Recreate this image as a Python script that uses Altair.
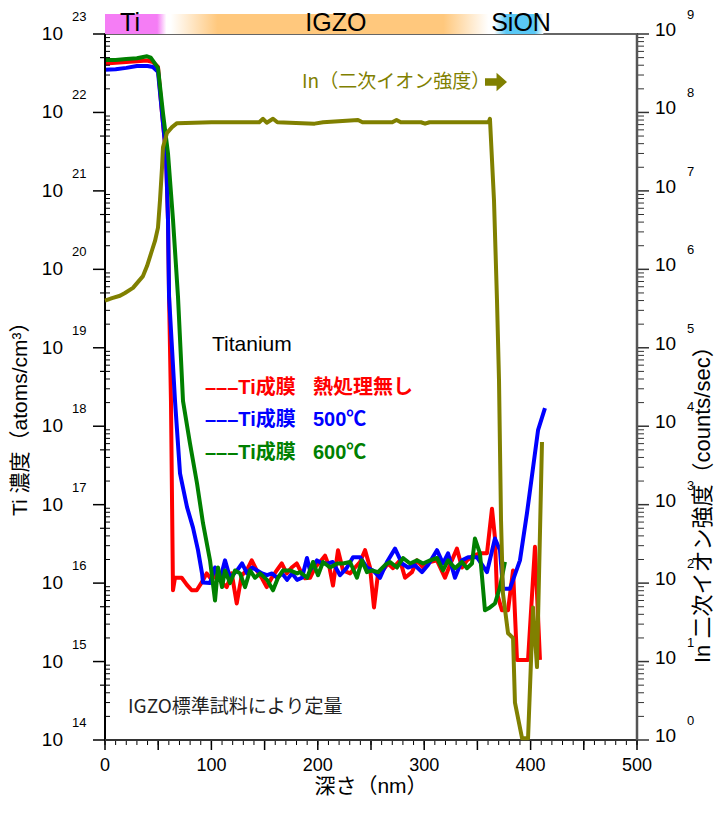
import altair as alt
import pandas as pd

# ---------------- data ----------------
red_depth = [0, 10, 20, 30, 39.5, 45, 49.8, 53.6, 57.3, 59.2,
             60.2, 62.0, 63.9, 65.8, 72.1, 77.0, 81.5, 86.2, 90.9, 95.6,
             100.3, 105.0, 109.6, 114.4, 119.1, 123.8, 128.5, 133.2, 137.9, 142.6,
             147.3, 152.0, 156.7, 161.4, 166.1, 170.8, 175.5, 180.2, 184.9, 188.0,
             192.7, 197.4, 202.1, 206.8, 211.0, 214.3, 219.0, 223.7, 230.3, 235.0,
             239.7, 244.4, 249.1, 252.8, 256.6, 261.0, 266.0, 270.7, 277.3, 282.0,
             288.5, 293.2, 298.9, 305.5, 312.0, 319.5, 324.2, 330.8, 335.5, 340.2,
             345.9, 352.4, 359.0, 363.7, 366.5, 368.4, 373.1, 378.8, 383.5, 387.2,
             397.6, 404.1, 408.8]
red_conc = [4.2e22, 4.3e22, 4.4e22, 4.5e22, 4.6e22, 4.4e22, 3.8e22, 9.8e21, 3.0e21, 4.3e20,
            4.5e19, 2.1e18, 8.1e15, 1.17e16, 1.17e16, 9.5e15, 8.1e15, 8.1e15, 1.02e16, 1.33e16,
            1.1e16, 1.33e16, 1.02e16, 8.9e15, 1.33e16, 5.5e15, 1.26e16, 1.45e16, 1.95e16, 1.45e16,
            1.17e16, 8.9e15, 1.17e16, 1.45e16, 1.78e16, 1.33e16, 1.58e16, 1.78e16, 1.33e16, 1.15e16,
            1.17e16, 1.58e16, 1.86e16, 2.24e16, 1.58e16, 9.3e15, 2.63e16, 1.45e16, 1.33e16, 1.58e16,
            1.86e16, 2.63e16, 1.58e16, 4.9e15, 1.33e16, 1.45e16, 1.78e16, 1.55e16, 1.95e16, 1.17e16,
            1.38e16, 1.95e16, 1.58e16, 1.86e16, 1.95e16, 1.17e16, 1.7e16, 2.75e16, 1.58e16, 1.95e16,
            2.24e16, 2.4e16, 2.4e16, 8.9e16, 3.8e16, 7.4e15, 4.5e15, 4.5e15, 1.45e16, 1.05e15,
            1.05e15, 2.9e16, 1.05e15]

blue_depth = [0, 10, 20, 30, 40, 45, 49.8, 53.6, 57.3, 59.2,
              60.2, 65.8, 70.5, 77.1, 82.7, 87.4, 91.2, 92.1, 98.7, 103.4,
              108.1, 112.8, 117.5, 124.1, 128.8, 133.5, 138.2, 143.0, 147.6, 152.3,
              157.0, 161.7, 166.4, 171.1, 175.8, 180.5, 185.2, 189.8, 192.7, 199.2,
              204.0, 209.6, 214.0, 220.9, 227.0, 233.1, 239.7, 246.2, 251.9, 258.5,
              265.0, 272.6, 279.1, 284.8, 291.0, 297.9, 303.6, 312.0, 317.7, 322.4,
              328.9, 335.5, 341.2, 349.6, 359.0, 366.5, 371.2, 374.1, 380.6, 390.0,
              396.6, 407.0, 413.5]
blue_conc = [3.5e22, 3.55e22, 3.7e22, 3.9e22, 3.9e22, 3.8e22, 3.3e22, 9.8e21, 3.0e21, 4.3e20,
             4.5e19, 2.1e18, 2.5e17, 9.3e16, 5.1e16, 2.63e16, 1.33e16, 1.02e16, 1.0e16, 1.58e16,
             1.1e16, 1.95e16, 1.17e16, 1.45e16, 1.78e16, 1.33e16, 1.58e16, 1.45e16, 1.33e16, 1.26e16,
             1.33e16, 1.17e16, 1.33e16, 1.1e16, 1.33e16, 1.1e16, 1.17e16, 2.09e16, 1.45e16, 1.95e16,
             1.78e16, 1.78e16, 1.86e16, 1.26e16, 1.55e16, 2.14e16, 2.14e16, 1.58e16, 1.45e16, 1.17e16,
             1.86e16, 2.75e16, 1.78e16, 1.58e16, 1.7e16, 1.38e16, 1.7e16, 2.63e16, 1.78e16, 2.4e16,
             1.17e16, 1.95e16, 2.14e16, 2.14e16, 1.38e16, 3.7e16, 2.63e16, 8.5e15, 8.5e15, 1.95e16,
             7.8e16, 8.9e17, 1.7e18]

green_depth = [0, 10, 20, 30, 39.5, 43, 49.8, 54.5, 59.2, 63.9,
               68.6, 73.3, 79.9, 86.5, 92.1, 98.7, 103.4, 106.2, 110.0, 112.8,
               117.5, 122.2, 126.9, 131.6, 136.3, 141.0, 145.7, 152.3, 157.9, 162.6,
               167.3, 173.9, 180.5, 183.3, 190.0, 195.5, 200.2, 204.9, 211.5, 218.2,
               223.7, 230.3, 236.8, 241.5, 246.2, 250.9, 256.6, 263.2, 267.9, 274.4,
               280.1, 286.7, 293.2, 298.9, 305.5, 312.0, 317.7, 322.4, 328.9, 335.5,
               340.2, 344.9, 347.7, 352.4, 357.1, 361.8, 366.5, 371.2, 375.9]
green_conc = [4.66e22, 4.66e22, 4.8e22, 4.9e22, 5.2e22, 5.0e22, 3.7e22, 9.8e21, 3.0e21, 4.3e20,
              4.5e19, 2.1e18, 6.0e17, 1.86e17, 5.8e16, 1.95e16, 6.0e15, 1.58e16, 8.9e15, 1.45e16,
              1.0e16, 1.45e16, 1.33e16, 8.9e15, 1.45e16, 1.17e16, 1.33e16, 1.1e16, 8.1e15, 1.17e16,
              1.45e16, 1.45e16, 1.33e16, 1.38e16, 1.17e16, 1.86e16, 1.26e16, 1.86e16, 1.58e16, 1.78e16,
              1.78e16, 1.86e16, 1.17e16, 1.95e16, 1.38e16, 1.45e16, 1.38e16, 1.7e16, 1.86e16, 1.58e16,
              2.09e16, 1.78e16, 1.95e16, 1.78e16, 1.95e16, 2.09e16, 1.45e16, 1.95e16, 1.55e16, 1.86e16,
              1.55e16, 1.78e16, 3.7e16, 2.4e16, 4.5e15, 4.9e15, 5.5e15, 8.9e15, 1.86e16]

in_depth = [0, 6.6, 14.1, 18.8, 26.3, 35.7, 39.5, 44.2, 47.0, 49.8,
            51.7, 53.6, 54.5, 58.3, 63.0, 67.7, 100, 145, 148.5, 152,
            157.9, 162, 197, 205, 237.8, 242, 270, 274, 278, 297,
            300.8, 305, 358, 360.5, 361.8, 365.6, 368.4, 370.3, 372.2, 374.0,
            378.8, 383.5, 385.3, 392.0, 397.6, 402.3, 406.0, 410.7]
in_counts = [4.0e5, 4.3e5, 4.6e5, 5.0e5, 5.8e5, 8.2e5, 1.1e6, 1.75e6, 2.3e6, 3.4e6,
             7.6e6, 2.0e7, 3.6e7, 5.5e7, 6.5e7, 7.3e7, 7.5e7, 7.5e7, 8.3e7, 7.4e7,
             8.3e7, 7.5e7, 7.2e7, 7.5e7, 8.0e7, 7.5e7, 7.5e7, 8.0e7, 7.5e7, 7.5e7,
             7.2e7, 7.5e7, 7.5e7, 7.5e7, 8.3e7, 7.6e6, 4.1e5, 3.9e4, 630, 74,
             23, 20, 3, 1.05, 1.05, 49, 8.5, 6300]

left_exps = list(range(14, 24))
right_exps = list(range(0, 10))
x_labels = [0, 100, 200, 300, 400, 500]
layer_names = ["Ti", "IGZO", "SiON"]
layer_centers = [23.5, 217, 391]
band_span = [0, 412]

# ---------------- styling ----------------
W, H = 532, 706
NUM = "Liberation Sans, Arial, sans-serif"
JP = "Noto Sans CJK JP, sans-serif"
MIX = "Liberation Sans, Noto Sans CJK JP, sans-serif"
OLIVE = "#808000"

XS = alt.Scale(domain=[0, 500], nice=False, zero=False)
YS = alt.Scale(type="log", domain=[1e14, 1e23], nice=False)
IS = alt.Scale(type="log", domain=[1, 1e9], nice=False)


def series(depth, vals, color, scale):
    df = pd.DataFrame({"d": depth, "v": vals})
    return alt.Chart(df).mark_line(color=color, strokeWidth=4, strokeJoin="round").encode(
        x=alt.X("d:Q", scale=XS, axis=None),
        y=alt.Y("v:Q", scale=scale, axis=None),
    )


def yrules(vals, scale, x0, x1, color="black", width=1.5):
    df = pd.DataFrame({"v": vals})
    return alt.Chart(df).mark_rule(color=color, strokeWidth=width).encode(
        y=alt.Y("v:Q", scale=scale, axis=None), x=alt.value(x0), x2=alt.value(x1))


def xrules(vals, y0, y1, color="black", width=1.5):
    df = pd.DataFrame({"t": vals})
    return alt.Chart(df).mark_rule(color=color, strokeWidth=width).encode(
        x=alt.X("t:Q", scale=XS, axis=None), y=alt.value(y0), y2=alt.value(y1))


def label(text, x, y, size, color="black", font=JP, weight="normal",
          align="left", baseline="middle", angle=0):
    return alt.Chart(pd.DataFrame({"t": [text]})).mark_text(
        align=align, baseline=baseline, fontSize=size, font=font,
        fontWeight=weight, color=color, angle=angle
    ).encode(x=alt.value(x), y=alt.value(y), text="t:N")


def line_rule(x0, x1, y0, y1, color, width):
    return alt.Chart(pd.DataFrame({"a": [0]})).mark_rule(color=color, strokeWidth=width).encode(
        x=alt.value(x0), x2=alt.value(x1), y=alt.value(y0), y2=alt.value(y1))


# ---------------- top band ----------------
grad = alt.LinearGradient(
    gradient="linear", x1=0, x2=1, y1=0, y2=0,
    stops=[
        alt.GradientStop(color="#F57DF5", offset=0.0),
        alt.GradientStop(color="#F57DF5", offset=0.119),
        alt.GradientStop(color="#FFFFFF", offset=0.14),
        alt.GradientStop(color="#FFFFFF", offset=0.15),
        alt.GradientStop(color="#FFC87D", offset=0.257),
        alt.GradientStop(color="#FFC87D", offset=0.772),
        alt.GradientStop(color="#FFFFFF", offset=0.875),
        alt.GradientStop(color="#FFFFFF", offset=0.888),
        alt.GradientStop(color="#5AC8F5", offset=0.915),
        alt.GradientStop(color="#5AC8F5", offset=0.98),
        alt.GradientStop(color="#FFFFFF", offset=1.0),
    ])
band = alt.Chart(pd.DataFrame({"s": [band_span[0]], "e": [band_span[1]]})).mark_rect(fill=grad).encode(
    x=alt.X("s:Q", scale=XS, axis=None), x2="e:Q", y=alt.value(-20), y2=alt.value(0))
band_text = alt.Chart(pd.DataFrame({"n": layer_names, "c": layer_centers})).mark_text(
    fontSize=25, font=NUM, color="black", align="center", baseline="alphabetic"
).encode(x=alt.X("c:Q", scale=XS, axis=None), y=alt.value(-3), text="n:N")

# ---------------- Ti curves ----------------
red = series(red_depth, red_conc, "#FF0000", YS)
blue = series(blue_depth, blue_conc, "#0000FF", YS)
green = series(green_depth, green_conc, "#008000", YS)

# ---------------- left axis ----------------
left_major = yrules([10.0 ** e for e in left_exps], YS, -12, 0, "black", 1.5)
left_half = yrules([5 * 10.0 ** e for e in left_exps[:-1]], YS, -5, 0, "black", 1.2)
left_minor = yrules([k * 10.0 ** e for e in left_exps[:-1] for k in range(2, 10)], YS, 0, 5, "black", 1.0)
ldf = pd.DataFrame({"e": left_exps, "v": [10.0 ** e for e in left_exps]})
left_ten = alt.Chart(ldf).mark_text(text="10", fontSize=19, font=NUM, align="right",
                                     baseline="middle", color="black").encode(
    y=alt.Y("v:Q", scale=YS, axis=None), x=alt.value(-42))
left_exp = alt.Chart(ldf).mark_text(fontSize=13, font=NUM, align="left", baseline="middle",
                                     color="black", dy=-17).encode(
    y=alt.Y("v:Q", scale=YS, axis=None), x=alt.value(-33), text=alt.Text("e:Q", format="d"))

# ---------------- x axis ----------------
x_major = xrules(list(range(0, 501, 50)), H, H + 10)
x_minor = xrules(list(range(0, 501, 10)), H, H + 5, width=1.0)
x_text = alt.Chart(pd.DataFrame({"t": x_labels})).mark_text(
    fontSize=18, font=NUM, align="center", baseline="middle", color="black"
).encode(x=alt.X("t:Q", scale=XS, axis=None), y=alt.value(H + 26), text=alt.Text("t:Q", format="d"))

# ---------------- frame lines ----------------
left_line = line_rule(0, 0, 0, H, "black", 2)
bottom_line = line_rule(0, W, H, H, "#333333", 2)
right_line = line_rule(W, W, 0, H, "#555555", 2.5)

# ---------------- annotations ----------------
ann = [
    label("In（二次イオン強度）", 197, 48, 19, color=OLIVE),
    label("Titanium", 107, 311, 21, font=NUM),
    label("–––Ti成膜", 100, 354, 20, color="#FF0000", font=MIX, weight="bold"),
    label("熱処理無し", 208, 354, 20, color="#FF0000", font=MIX, weight="bold"),
    label("–––Ti成膜", 100, 386, 20, color="#0000FF", font=MIX, weight="bold"),
    label("500℃", 208, 386, 20, color="#0000FF", font=MIX, weight="bold"),
    label("–––Ti成膜", 100, 419, 20, color="#008000", font=MIX, weight="bold"),
    label("600℃", 208, 419, 20, color="#008000", font=MIX, weight="bold"),
    label("IGZO標準試料により定量", 23, 673, 19, color="#222222"),
    label("Ti 濃度（atoms/cm³）", -84, 482, 21, font=MIX, angle=270),
    label("深さ（nm）", 266, 753, 21, font=MIX, align="center"),
]
arrow = alt.Chart(pd.DataFrame({"a": [0]})).mark_point(
    shape="M -1 -0.35 L 0.05 -0.35 L 0.05 -0.85 L 1 0 L 0.05 0.85 L 0.05 0.35 L -1 0.35 Z",
    filled=True, color=OLIVE, size=484, opacity=1, strokeWidth=0
).encode(x=alt.value(391), y=alt.value(48))

ti_group = alt.layer(band, band_text, red, blue, green,
                     left_major, left_half, left_minor, left_ten, left_exp,
                     x_major, x_minor, x_text, left_line, bottom_line, *ann, arrow)

# ---------------- In (right axis) ----------------
in_line = series(in_depth, in_counts, OLIVE, IS)
right_major = yrules([10.0 ** e for e in right_exps], IS, W, W + 12, "#333333", 1.5)
right_minor = yrules([k * 10.0 ** e for e in right_exps[:-1] for k in range(2, 10)], IS, W, W + 7, "#333333", 1.0)
rdf = pd.DataFrame({"e": right_exps, "v": [10.0 ** e for e in right_exps]})
right_ten = alt.Chart(rdf).mark_text(text="10", fontSize=19, font=NUM, align="left",
                                      baseline="middle", color="black", dy=-4).encode(
    y=alt.Y("v:Q", scale=IS, axis=None), x=alt.value(550))
right_exp = alt.Chart(rdf).mark_text(fontSize=13, font=NUM, align="left", baseline="middle",
                                      color="black", dy=-19).encode(
    y=alt.Y("v:Q", scale=IS, axis=None), x=alt.value(582), text=alt.Text("e:Q", format="d"))
right_title = label("In 二次イオン強度（counts/sec）", 598, 629, 22, font=MIX, angle=270)

in_group = alt.layer(in_line, right_major, right_minor, right_ten, right_exp, right_title, right_line)

chart = alt.layer(ti_group, in_group).resolve_scale(y="independent").properties(
    width=W, height=H,
    autosize=alt.AutoSizeParams(type="none"),
    padding={"left": 97, "top": 26, "right": 78, "bottom": 64},
).configure_view(stroke="#666666", strokeWidth=2)

chart.save("out.html", embed_options={"renderer": "svg", "actions": False})
